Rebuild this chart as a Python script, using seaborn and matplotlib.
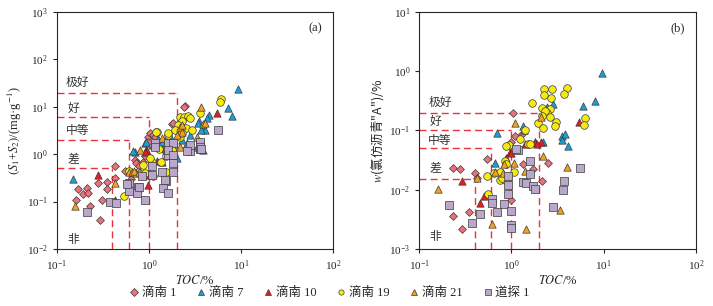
import pandas as pd
import matplotlib
matplotlib.use('Agg')
import matplotlib.pyplot as plt
import seaborn as sns

sns.set_style('ticks')
plt.rcParams['font.family'] = ['Liberation Serif', 'Noto Sans CJK SC']
plt.rcParams['mathtext.fontset'] = 'stix'

wells = ['滴南 1', '滴南 7', '滴南 10', '滴南 19', '滴南 21', '道探 1']
colors = ['#e8737d', '#1c9fd8', '#e61a1f', '#f6ea12', '#f2a21e', '#b9a8cc']
markers = ['D', '^', '^', 'o', '^', 's']
sizes = [16, 28, 28, 30, 28, 28]

# panel (a): TOC vs S1+S2
toc_a = {
    '滴南 1': [0.43, 0.43, 0.17, 0.21, 0.19, 0.22, 0.28, 0.35, 0.16, 0.23, 0.29, 0.35, 0.31, 0.71, 0.74, 0.78, 0.97,
              1.17, 2.46, 2.4, 1.77, 1.84, 1.03, 1.1, 1.17, 0.73, 0.77, 0.98, 0.55, 0.64, 0.86, 1.3, 1.45, 0.9],
    '滴南 7': [0.15, 0.70, 0.9, 9.4, 7.3, 7.9, 4.5, 4.3, 3.5, 3.9, 4.05, 1.3, 1.5, 1.7, 3.4, 3.7, 2.8, 2.3, 0.93, 1.1,
              1.25, 1.4, 2.6, 3.3, 3.9, 0.67, 2.0],
    '滴南 10': [0.28, 5.5, 0.94, 0.96, 1.55, 0.98, 0.76, 0.43, 0.91, 0.95, 1.23, 1.4, 1.8],
    '滴南 19': [6.0, 5.9, 2.16, 2.4, 2.67, 2.8, 2.26, 2.08, 3.6, 1.23, 1.6, 2.16, 1.2, 1.6, 1.9, 0.87, 0.76, 0.9, 1.1,
               1.55, 1.52, 1.77, 0.53, 1.07, 1.35, 1.03, 1.3, 1.77, 2.5, 2.9, 2.3, 0.6],
    '滴南 21': [0.157, 0.43, 0.61, 0.66, 0.72, 3.7, 3.9, 3.3, 2.16, 2.26, 1.55, 4.05, 2.3, 2.16, 0.8, 0.69, 0.77, 2.0, 1.4],
    '道探 1': [0.21, 0.38, 0.44, 0.6, 0.6, 0.76, 0.9, 0.83, 1.07, 1.07, 1.37, 1.52, 1.43, 1.6, 1.84, 1.81, 1.6, 2.8, 3.6,
              3.6, 1.17, 5.6, 3.6, 3.6, 2.8, 1.6, 1.17, 3.7, 2.6, 1.84, 1.6, 1.84, 0.57, 0.74, 0.77, 1.5],
}
s12_a = {
    '滴南 1': [0.56, 0.32, 0.18, 0.19, 0.145, 0.15, 0.25, 0.26, 0.11, 0.08, 0.04, 0.18, 0.11, 0.76, 0.64, 0.4, 2.3,
              3.0, 10.5, 10.0, 4.4, 4.6, 2.8, 2.5, 2.3, 0.65, 0.56, 1.8, 0.45, 0.3, 0.7, 1.5, 1.2, 0.9],
    '滴南 7': [0.30, 1.1, 1.7, 23.7, 9.3, 6.5, 6.7, 5.8, 4.9, 3.4, 3.2, 1.7, 2.0, 2.4, 4.5, 3.2, 2.5, 2.0, 1.8, 1.6,
              2.1, 1.8, 1.7, 1.45, 1.25, 1.15, 0.82],
    '滴南 10': [0.37, 7.3, 1.25, 1.15, 1.25, 0.22, 0.19, 0.11, 1.1, 0.36, 0.72, 0.70, 1.0],
    '滴南 19': [14.5, 12.8, 6.0, 6.2, 6.4, 5.8, 4.9, 4.1, 7.3, 3.0, 2.5, 2.3, 3.0, 2.8, 3.2, 0.58, 0.43, 0.40, 0.34,
               0.43, 0.92, 1.28, 0.13, 0.70, 0.70, 0.82, 1.3, 1.25, 3.6, 3.3, 2.8, 0.45],
    '滴南 21': [0.08, 0.25, 0.43, 0.43, 0.40, 10.0, 4.3, 2.3, 3.7, 3.0, 1.45, 4.5, 4.1, 1.45, 1.25, 0.44, 0.43, 2.6, 2.2],
    '道探 1': [0.06, 0.10, 0.093, 0.17, 0.25, 0.2, 0.11, 0.35, 0.36, 0.56, 0.42, 0.27, 0.19, 0.15, 0.64, 0.43, 0.95,
              1.15, 1.57, 1.3, 1.7, 3.2, 1.8, 1.45, 1.57, 1.7, 1.45, 1.3, 1.15, 1.7, 1.2, 0.95, 0.24, 0.15, 0.2, 0.29],
}

# panel (b): TOC vs chloroform bitumen "A"
toc_b = {
    '滴南 1': [1.04, 1.09, 0.23, 0.28, 0.40, 0.42, 0.54, 0.23, 0.29, 0.35, 1.0, 1.34, 1.72, 2.16, 2.5, 0.98, 1.3],
    '滴南 7': [9.5, 8.0, 5.9, 2.8, 2.4, 1.34, 1.36, 0.70, 3.5, 3.85, 3.55, 4.1, 0.66, 2.2, 1.8],
    '滴南 10': [5.4, 1.39, 1.78, 2.1, 1.9, 0.29, 0.46, 0.51, 0.87, 0.96, 1.0],
    '滴南 19': [3.96, 3.7, 2.76, 2.24, 2.24, 2.67, 1.68, 2.16, 2.6, 2.4, 2.3, 2.16, 2.6, 3.06, 2.93, 6.2, 6.1, 1.95,
               2.2, 1.39, 1.23, 0.94, 1.52, 0.88, 0.86, 0.88, 0.54, 0.64, 0.75, 0.75, 0.86, 0.78, 1.06, 0.56, 1.57],
    '滴南 21': [1.09, 2.1, 0.16, 0.42, 0.62, 1.44, 3.34, 4.0, 2.2, 1.07, 1.39, 0.66, 0.81, 0.82, 0.61],
    '道探 1': [0.21, 0.375, 0.455, 0.61, 0.61, 0.70, 0.83, 0.92, 0.91, 0.99, 0.99, 0.99, 1.18, 1.34, 1.45, 1.72, 1.79,
              1.59, 1.6, 2.8, 3.7, 3.6, 5.6, 1.12, 0.92],
}
bit_b = {
    '滴南 1': [0.20, 0.082, 0.023, 0.022, 0.019, 0.016, 0.033, 0.0036, 0.0022, 0.0042, 0.0068, 0.027, 0.022, 0.0138,
              0.028, 0.063, 0.088],
    '滴南 7': [0.95, 0.32, 0.26, 0.28, 0.25, 0.117, 0.10, 0.092, 0.081, 0.087, 0.069, 0.054, 0.028, 0.065, 0.065],
    '滴南 10': [0.141, 0.059, 0.065, 0.065, 0.059, 0.0138, 0.006, 0.0078, 0.034, 0.044, 0.042],
    '滴南 19': [0.52, 0.41, 0.50, 0.50, 0.395, 0.35, 0.295, 0.238, 0.229, 0.196, 0.214, 0.178, 0.168, 0.141, 0.12,
               0.162, 0.125, 0.133, 0.11, 0.101, 0.071, 0.056, 0.059, 0.055, 0.030, 0.027, 0.017, 0.0195, 0.020,
               0.0145, 0.0145, 0.016, 0.020, 0.0085, 0.059],
    '滴南 21': [0.133, 0.168, 0.0102, 0.016, 0.0026, 0.0022, 0.0046, 0.024, 0.037, 0.028, 0.021, 0.020, 0.0195, 0.027,
               0.0063],
    '道探 1': [0.0056, 0.0027, 0.0039, 0.0069, 0.006, 0.0042, 0.0058, 0.012, 0.0085, 0.0044, 0.0025, 0.0023, 0.046,
              0.0135, 0.013, 0.0117, 0.0102, 0.030, 0.0185, 0.0051, 0.0139, 0.0099, 0.023, 0.048, 0.017],
}

# grade boundaries: (label, toc limit, value limit)
grades_a = [('极好', 2.0, 20), ('好', 1.0, 6), ('中等', 0.6, 2), ('差', 0.4, 0.5)]
grades_b = [('极好', 2.0, 0.2), ('好', 1.0, 0.1), ('中等', 0.6, 0.05), ('差', 0.4, 0.015)]


def make_df(tocs, vals):
    rows = []
    for w in wells:
        for t, v in zip(tocs[w], vals[w]):
            rows.append({'TOC': t, 'val': v, 'well': w})
    return pd.DataFrame(rows)


fig = plt.figure(figsize=(7.13, 3.06), dpi=100)
ax1 = fig.add_axes([0.0799, 0.1863, 0.3871, 0.7745])
ax2 = fig.add_axes([0.588, 0.1863, 0.388, 0.7745])

red = '#e8323c'
for ax, df, grades, ylim, lab_y, tag in [
        (ax1, make_df(toc_a, s12_a), grades_a, (1e-2, 1e3), [33, 9.0, 3.1, 0.76, 0.016], '(a)'),
        (ax2, make_df(toc_b, bit_b), grades_b, (1e-3, 1e1), [0.30, 0.14, 0.067, 0.023, 0.0016], '(b)')]:
    ax.set_xscale('log')
    ax.set_yscale('log')
    for i, w in enumerate(wells):
        sub = df[df['well'] == w]
        sns.scatterplot(data=sub, x='TOC', y='val', ax=ax, marker=markers[i], color=colors[i],
                        s=sizes[i], edgecolor='#3a3a3a', linewidth=0.5, label=w, zorder=3)
    for name, tx, vy in grades:
        ax.plot([0.1, tx], [vy, vy], color=red, lw=1, dashes=(5, 3), zorder=2)
        ax.plot([tx, tx], [ylim[0], vy], color=red, lw=1, dashes=(5, 3), zorder=2)
    names = [g[0] for g in grades] + ['非']
    xs = [0.125, 0.13, 0.125, 0.13, 0.13]
    for name, x, y in zip(names, xs, lab_y):
        ax.text(x, y, name, fontsize=8.5, color='#333333', va='center', ha='left',
                family=['Noto Sans CJK SC'])
    ax.text(0.96, 0.93, tag, transform=ax.transAxes, fontsize=9, ha='right', va='center')
    ax.set_xlim(0.1, 100)
    ax.set_ylim(*ylim)
    ax.set_xlabel(r'$TOC$/%', fontsize=9, labelpad=1)
    ax.tick_params(labelsize=8, length=3, width=0.8, which='major')
    ax.tick_params(which='minor', length=0)
    for sp in ax.spines.values():
        sp.set_linewidth(0.8)
    ax.get_legend().remove()

ax1.set_ylabel(r'$(S_1$+$S_2)$/(mg·g$^{-1}$)', fontsize=9, labelpad=2)
ax2.set_ylabel(r'$w$(氯仿沥青"A")/%', fontsize=9, labelpad=2, family=['Noto Sans CJK SC'])

handles = []
for i, w in enumerate(wells):
    handles.append(plt.Line2D([], [], marker=markers[i], color='none', markerfacecolor=colors[i],
                              markeredgecolor='#3a3a3a', markeredgewidth=0.5, markersize=3.8))
fig.legend(handles, wells, loc='center', bbox_to_anchor=(0.462, 0.042), ncol=6, frameon=False,
           handletextpad=0.2, columnspacing=1.6, handlelength=0.8,
           prop={'family': ['Liberation Serif', 'Noto Sans CJK SC'], 'size': 9})

fig.savefig('out.png', dpi=100)
